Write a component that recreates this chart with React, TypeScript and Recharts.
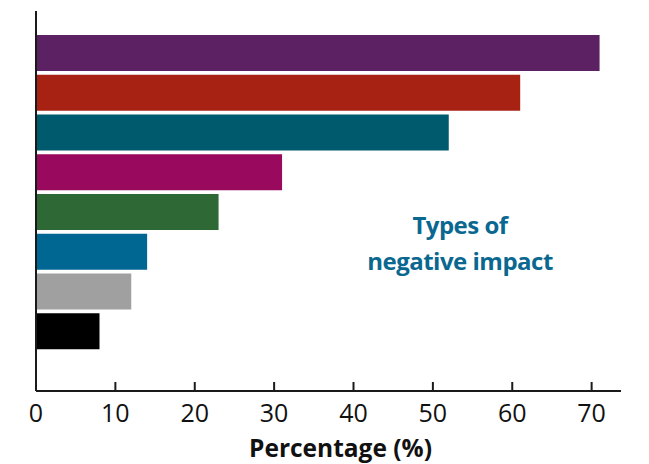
import { BarChart, Bar, XAxis, YAxis, Cell, Label } from "recharts";

const categories = ["A", "B", "C", "D", "E", "F", "G", "H"];
const values = [71, 61, 52, 31, 23, 14, 12, 8];
const colors = ["#5c2163", "#a82214", "#005a6e", "#990a5e", "#2e6935", "#006793", "#a0a0a0", "#000000"];
const xTicks = [0, 10, 20, 30, 40, 50, 60, 70];

const data = categories.map((c, i) => ({ name: c, value: values[i] }));

// ticks point up into the plot, label sits under the axis
const InwardTick = (props: any) => {
  const { x, y, payload } = props;
  return (
    <g>
      <line x1={x} x2={x} y1={y - 9} y2={y} stroke="#1a1a1a" strokeWidth={2} />
      <text
        x={x}
        y={y + 31}
        textAnchor="middle"
        fill="#111"
        fontSize={25}
        fontFamily="Open Sans"
      >
        {payload.value}
      </text>
    </g>
  );
};

export default function App() {
  return (
    <div style={{ position: "absolute", left: 0, top: 0, width: 649, height: 464 }}>
      <BarChart
        width={649}
        height={464}
        data={data}
        layout="vertical"
        margin={{ top: 11, right: 28, left: 35, bottom: 0 }}
      >
        <XAxis
          type="number"
          domain={[0, 73.7]}
          ticks={xTicks}
          height={73}
          tickSize={0}
          tickMargin={0}
          tickLine={false}
          axisLine={{ stroke: "#1a1a1a", strokeWidth: 2 }}
          tick={<InwardTick />}
        >
          <Label
            value="Percentage (%)"
            position="insideBottom"
            offset={7}
            dx={12}
            style={{ fill: "#111", fontSize: 24.5, fontWeight: 700, fontFamily: "Open Sans" }}
          />
        </XAxis>
        <YAxis
          type="category"
          dataKey="name"
          width={1}
          tick={false}
          tickLine={false}
          padding={{ top: 22, bottom: 40 }}
          axisLine={{ stroke: "#1a1a1a", strokeWidth: 2 }}
        />
        <Bar dataKey="value" barSize={36} isAnimationActive={false}>
          {data.map((d, i) => (
            <Cell key={d.name} fill={colors[i]} />
          ))}
        </Bar>
      </BarChart>
      <div
        style={{
          position: "absolute",
          left: 340,
          top: 207,
          width: 240,
          textAlign: "center",
          color: "#0a6890",
          fontFamily: "Open Sans",
          fontWeight: 700,
          fontSize: 24,
          lineHeight: "36px",
          letterSpacing: -0.5,
        }}
      >
        Types of
        <br />
        negative impact
      </div>
    </div>
  );
}
